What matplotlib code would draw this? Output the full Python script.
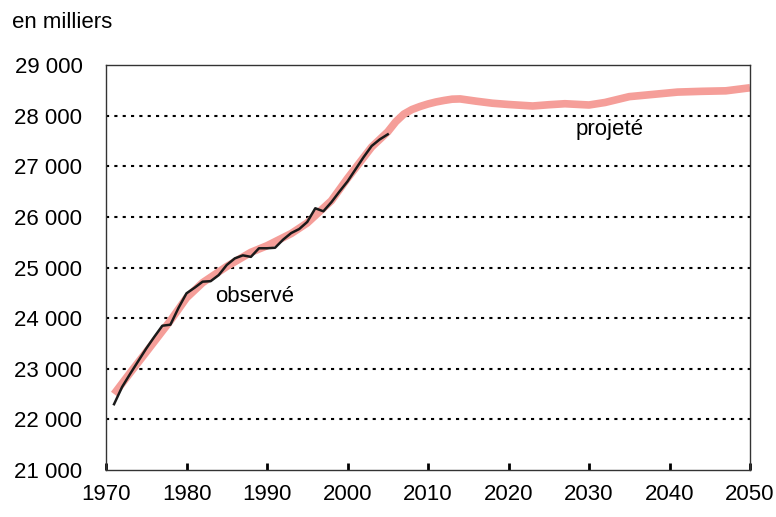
import matplotlib
matplotlib.use("Agg")
import matplotlib.pyplot as plt
import numpy as np

plt.rcParams['font.family'] = ['Liberation Sans', 'DejaVu Sans']

# observed population (thousands), black line
obs_years = list(range(1971, 2006))
obs_values = [22300, 22640, 22900, 23150, 23400, 23630, 23850, 23870, 24200, 24490,
              24600, 24720, 24730, 24850, 25050, 25180, 25240, 25210, 25380, 25380,
              25390, 25550, 25680, 25760, 25900, 26170, 26110, 26290, 26500, 26700,
              26940, 27180, 27400, 27530, 27630]

# projected population (thousands), pink line
proj_years = [1971, 1973, 1975, 1978, 1980, 1982, 1985, 1988, 1990, 1993, 1995,
              1998, 2000, 2003, 2005, 2006, 2007, 2008, 2009, 2010, 2011, 2012, 2013,
              2014, 2016, 2018, 2020, 2023, 2025, 2027, 2030, 2032, 2035, 2038, 2041,
              2044, 2047, 2050]
proj_values = [22500, 22920, 23330, 23950, 24400, 24700, 25020, 25300, 25430, 25670, 25880,
               26320, 26760, 27380, 27680, 27880, 28030, 28120, 28180, 28230, 28270, 28300,
               28325, 28330, 28285, 28245, 28220, 28190, 28215, 28235, 28210, 28260, 28375,
               28420, 28465, 28480, 28490, 28550]

yticks = [21000, 22000, 23000, 24000, 25000, 26000, 27000, 28000, 29000]
xticks = [1970, 1980, 1990, 2000, 2010, 2020, 2030, 2040, 2050]

fig = plt.figure(figsize=(7.76, 5.17), dpi=100)
ax = fig.add_axes([106 / 776, 47 / 517, 644 / 776, 405 / 517])

for y in yticks[1:-1]:
    ax.axhline(y, color='black', lw=1.5, dashes=(1.5, 2.5), zorder=1)

ax.plot(proj_years, proj_values, color='#f59e99', lw=5.5, solid_capstyle='butt',
        solid_joinstyle='round', zorder=2)
ax.plot(obs_years, obs_values, color='#1a1a1a', lw=1.8, zorder=3)

ax.set_xlim(1970, 2050)
ax.set_ylim(21000, 29000)
ax.set_xticks(xticks)
ax.set_yticks(yticks)
ax.set_yticklabels([f"{v:,}".replace(",", " ") for v in yticks], fontsize=16)
ax.set_xticklabels([str(v) for v in xticks], fontsize=16)
ax.tick_params(axis='y', length=0, pad=17)
ax.tick_params(axis='x', direction='in', length=5, width=2, pad=10)

for s in ax.spines.values():
    s.set_color('#333333')
    s.set_linewidth(1.0)

ax.text(1983.5, 24430, "observé", fontsize=16, va='center', ha='left')
ax.text(2028.3, 27720, "projeté", fontsize=16, va='center', ha='left')
fig.text(12 / 776, 1 - 22 / 517, "en milliers", fontsize=16, va='center', ha='left')

plt.savefig("out.png", dpi=100)
